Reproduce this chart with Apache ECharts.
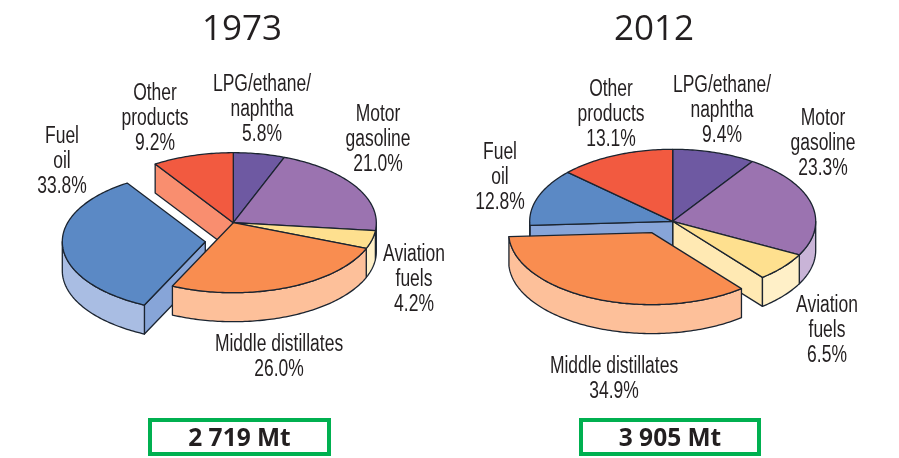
<!DOCTYPE html>
<html><head><meta charset="utf-8">
<style>html,body{margin:0;padding:0;background:#fff}#c{width:899px;height:458px}</style>
<script src="https://cdn.jsdelivr.net/npm/echarts@6/dist/echarts.min.js"></script>
</head><body><div id="c"></div>
<script>
// ---- data ----
const categories = ['LPG/ethane/\nnaphtha','Motor\ngasoline','Aviation\nfuels','Middle distillates','Fuel\noil','Other\nproducts'];
const years = ['1973','2012'];
const values1973 = [5.8,21.0,4.2,26.0,33.8,9.2];
const values2012 = [9.4,23.3,6.5,34.9,12.8,13.1];
const totals = ['2 719 Mt','3 905 Mt'];

// ---- styles / layout ----
const palette = [
  {top:'#6e59a2',outer:'#a99ac8',cut:'#8f7db8'},
  {top:'#9b73b0',outer:'#c9b4d7',cut:'#b89fcb'},
  {top:'#fee08f',outer:'#fff0c8',cut:'#ffe9b3'},
  {top:'#f98d50',outer:'#fdc09a',cut:'#fbb080'},
  {top:'#5b89c5',outer:'#a9bde3',cut:'#87a5d8'},
  {top:'#f25a40',outer:'#f98e6f',cut:'#f98e6f'}
];
const line = '#1b2430';
const font = '"Liberation Sans",sans-serif';
const pies = [
  {values:values1973,cx:233.3,cy:222.7,rx:143,ry:70,depth:29,explode:{4:[-28,19]},explodedLayer:0,
   labels:[[262,109.5],[378,139.5],[414,279.5],[279,357],[62,161.5],[155,118.5]],title:[242,30],box:[148,418,183,38]},
  {values:values2012,cx:672.7,cy:221.3,rx:143,ry:72,depth:29,explode:{3:[-21,11.3]},explodedLayer:20,
   labels:[[722,110.5],[823,143.5],[827,330.5],[614,379],[500,177.5],[611,114.5]],title:[654,30],box:[579,418,182,38]}
];

function pt(p,a,o,dy){const r=a*Math.PI/180;return [p.cx+o[0]+p.rx*Math.sin(r),p.cy+o[1]+dy-p.ry*Math.cos(r)];}
function arc(p,a0,a1,o,dy){const n=Math.max(1,Math.ceil(Math.abs(a1-a0)));const out=[];for(let i=0;i<=n;i++)out.push(pt(p,a0+(a1-a0)*i/n,o,dy));return out;}
function poly(points,fill,z2){return {type:'polygon',z2:z2,shape:{points:points},style:{fill:fill,stroke:line,lineWidth:1.3,lineJoin:'round'}};}

function renderer(p){
  const total=p.values.reduce((a,b)=>a+b,0),N=p.values.length;
  return function(params,api){
    const i=params.dataIndex,v=api.value(0);
    let before=0;for(let k=0;k<i;k++)before+=p.values[k];
    const a0=before/total*360,a1=(before+v)/total*360;
    const self=!!p.explode[i],o=p.explode[i]||[0,0],base=self?p.explodedLayer:10,d=p.depth,c=palette[i];
    const ctr=[p.cx+o[0],p.cy+o[1]],ctrD=[ctr[0],ctr[1]+d];
    const ch=[];
    // a cut face shows only where the neighbour has been pulled away and the face looks towards the viewer
    const wall=a=>ch.push(poly([ctr,pt(p,a,o,0),pt(p,a,o,d),ctrD],c.cut,base+1));
    if((self||p.explode[(i+N-1)%N])&&a0>180)wall(a0);
    if((self||p.explode[(i+1)%N])&&a1<180)wall(a1);
    const s=Math.max(a0,90),e=Math.min(a1,270);
    if(e>s){ch.push(poly(arc(p,s,e,o,0).concat(arc(p,e,s,o,d)),c.outer,base+2));}
    ch.push(poly([ctr].concat(arc(p,a0,a1,o,0)),c.top,base+3));
    return {type:'group',children:ch};
  };
}

const graphic=[];
pies.forEach((p,n)=>{
  p.labels.forEach((l,i)=>{
    graphic.push({type:'text',x:l[0],y:l[1],scaleX:0.76,silent:true,z:20,style:{text:categories[i]+'\n'+p.values[i].toFixed(1)+'%',font:'23px '+font,fill:'#231f20',align:'center',verticalAlign:'middle',lineHeight:25}});
  });
  graphic.push({type:'text',x:p.title[0],y:p.title[1],silent:true,z:20,style:{text:years[n],font:'35px "Open Sans",sans-serif',fill:'#231f20',align:'center',verticalAlign:'middle'}});
  const b=p.box;
  graphic.push({type:'rect',silent:true,z:20,shape:{x:b[0]+2,y:b[1]+2,width:b[2]-4,height:b[3]-4},style:{fill:'#fff',stroke:'#00b050',lineWidth:4}});
  graphic.push({type:'text',x:b[0]+b[2]/2,y:b[1]+b[3]/2+2,silent:true,z:21,style:{text:totals[n],font:'bold 24.5px "Open Sans",sans-serif',fill:'#231f20',align:'center',verticalAlign:'middle'}});
});

const chart=echarts.init(document.getElementById('c'),null,{renderer:'canvas'});
chart.setOption({
  animation:false,backgroundColor:'#fff',
  graphic:graphic,
  series:pies.map(p=>({type:'custom',coordinateSystem:'none',silent:true,renderItem:renderer(p),data:p.values.map(v=>[v]),encode:{value:0}}))
});
</script></body></html>
